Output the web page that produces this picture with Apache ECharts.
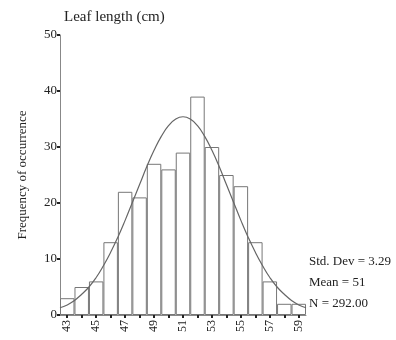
<!DOCTYPE html>
<html><head><meta charset="utf-8">
<script src="https://cdn.jsdelivr.net/npm/echarts@6/dist/echarts.min.js"></script>
<style>html,body{margin:0;padding:0;background:#fff}#c{width:396px;height:340px}</style>
</head><body><div id="c"></div>
<script>
const categories = ['43','44','45','46','47','48','49','50','51','52','53','54','55','56','57','58','59'];
const frequencies = [3,5,6,13,22,21,27,26,29,39,30,25,23,13,6,2,2];
const curveX = [42.5,43,43.5,44,44.5,45,45.5,46,46.5,47,47.5,48,48.5,49,49.5,50,50.5,51,51.5,52,52.5,53,53.5,54,54.5,55,55.5,56,56.5,57,57.5,58,58.5,59,59.5];
const curveY = [1.3,1.8,2.6,3.7,5.0,6.7,8.8,11.2,13.9,16.9,20.1,23.3,26.5,29.4,31.9,33.8,35.0,35.4,35.0,33.8,31.9,29.4,26.5,23.3,20.1,16.9,13.9,11.2,8.8,6.7,5.0,3.7,2.6,1.8,1.3];
const yTicks = [0,10,20,30,40,50];
const statsLines = ['Std. Dev = 3.29','Mean = 51','N = 292.00'];

const serif = '"Liberation Serif", "DejaVu Serif", serif';
const chart = echarts.init(document.getElementById('c'));
const gridL = 60, gridR = 90, gridT = 35, gridB = 25;
chart.setOption({
  animation: false,
  backgroundColor: '#fff',
  title: {
    text: 'Leaf length (cm)', left: 59, top: 5,
    textStyle: {fontFamily: serif, fontSize: 15, fontWeight: 'normal', color: '#222'}
  },
  grid: {left: gridL, right: gridR, top: gridT, bottom: gridB},
  xAxis: [{
    type: 'category', data: categories, boundaryGap: true,
    axisLine: {lineStyle: {color: '#888', width: 1}},
    axisTick: {show: true, interval: 0, alignWithLabel: true, length: 3, lineStyle: {color: '#222', width: 2}},
    axisLabel: {interval: 1, rotate: 90, fontFamily: serif, fontSize: 12, color: '#222', margin: 5}
  }, {
    type: 'value', min: 42.5, max: 59.5, show: false
  }],
  yAxis: {
    type: 'value', min: yTicks[0], max: yTicks[yTicks.length-1], interval: 10,
    name: 'Frequency of occurrence', nameLocation: 'middle', nameGap: 31, nameRotate: 90,
    nameTextStyle: {fontFamily: serif, fontSize: 13, color: '#222'},
    axisLine: {show: true, lineStyle: {color: '#888', width: 1}},
    axisTick: {show: true, length: 3, lineStyle: {color: '#222', width: 2}},
    axisLabel: {fontFamily: serif, fontSize: 13, color: '#222', margin: 3},
    splitLine: {show: false}
  },
  series: [{
    type: 'bar', data: frequencies, barCategoryGap: '0%',
    itemStyle: {color: '#fff', borderColor: '#777', borderWidth: 1}
  }, {
    type: 'line', xAxisIndex: 1, smooth: true, showSymbol: false,
    data: curveX.map((x, i) => [x, curveY[i]]),
    lineStyle: {color: '#666', width: 1.2}
  }],
  graphic: statsLines.map((t, i) => ({
    type: 'text', left: 309, top: 255 + i * 21,
    style: {text: t, font: '13px ' + serif, fill: '#222'}
  }))
});
</script></body></html>
